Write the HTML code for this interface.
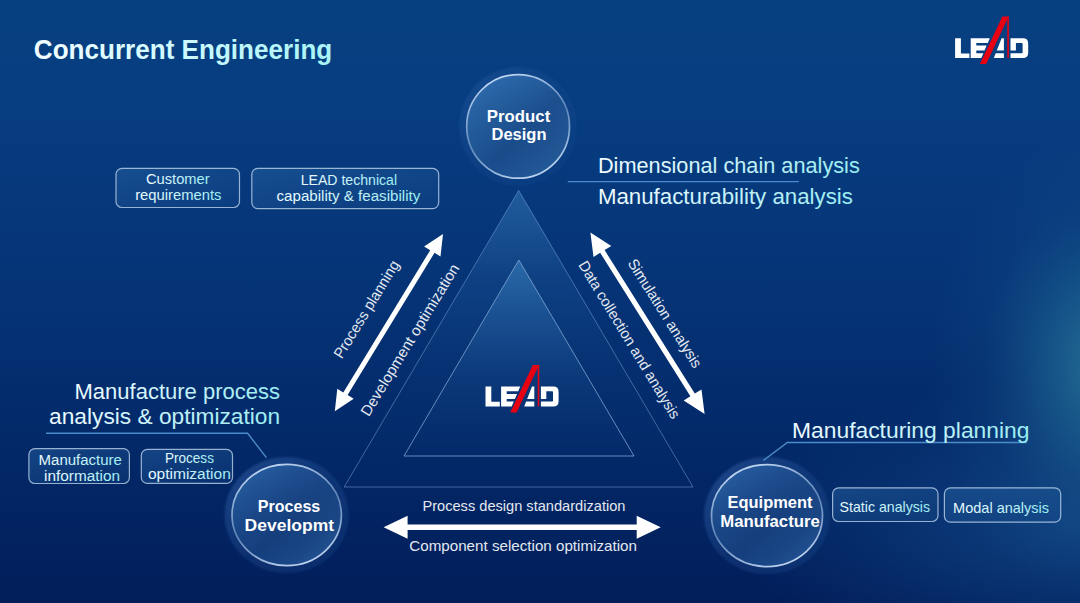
<!DOCTYPE html>
<html><head><meta charset="utf-8"><style>
html,body{margin:0;padding:0;background:#053173;}
body{width:1080px;height:603px;overflow:hidden;}
svg{display:block;}
</style></head><body>
<svg width="1080" height="603" viewBox="0 0 1080 603">
<defs>
<linearGradient id="bg" x1="0" y1="0" x2="0" y2="1">
  <stop offset="0" stop-color="#074080"/>
  <stop offset="0.17" stop-color="#073d81"/>
  <stop offset="0.5" stop-color="#053375"/>
  <stop offset="0.75" stop-color="#032868"/>
  <stop offset="1" stop-color="#021e5a"/>
</linearGradient>
<radialGradient id="glow" cx="0.5" cy="0.5" r="0.5">
  <stop offset="0" stop-color="#2c7e9c" stop-opacity="0.85"/>
  <stop offset="0.35" stop-color="#23709a" stop-opacity="0.5"/>
  <stop offset="0.7" stop-color="#1a5a90" stop-opacity="0.15"/>
  <stop offset="1" stop-color="#1a5a90" stop-opacity="0"/>
</radialGradient>
<radialGradient id="glow2" cx="0.5" cy="0.5" r="0.5">
  <stop offset="0" stop-color="#124888" stop-opacity="0.85"/>
  <stop offset="0.5" stop-color="#0f4282" stop-opacity="0.45"/>
  <stop offset="1" stop-color="#0c3c7a" stop-opacity="0"/>
</radialGradient>
<linearGradient id="tg" x1="0" y1="0" x2="1" y2="0">
  <stop offset="0" stop-color="#f2fbff"/>
  <stop offset="0.5" stop-color="#c8f2f8"/>
  <stop offset="1" stop-color="#98eef2"/>
</linearGradient>
<linearGradient id="tgt" x1="0" y1="0" x2="1" y2="0">
  <stop offset="0" stop-color="#f4fdff"/>
  <stop offset="0.35" stop-color="#d8fbff"/>
  <stop offset="1" stop-color="#a8f4f6"/>
</linearGradient>
<linearGradient id="tri" x1="0" y1="0" x2="0" y2="1">
  <stop offset="0" stop-color="#2a68a8" stop-opacity="0.75"/>
  <stop offset="0.3" stop-color="#2a68a8" stop-opacity="0.22"/>
  <stop offset="0.6" stop-color="#2a68a8" stop-opacity="0.05"/>
  <stop offset="1" stop-color="#2a68a8" stop-opacity="0.0"/>
</linearGradient>
<linearGradient id="tri2" x1="0" y1="0" x2="0" y2="1">
  <stop offset="0" stop-color="#3272b2" stop-opacity="0.8"/>
  <stop offset="0.3" stop-color="#2a68a8" stop-opacity="0.45"/>
  <stop offset="0.6" stop-color="#2a68a8" stop-opacity="0.15"/>
  <stop offset="1" stop-color="#2a68a8" stop-opacity="0.0"/>
</linearGradient>
<linearGradient id="circ" x1="0" y1="0" x2="1" y2="1">
  <stop offset="0" stop-color="#2a62a2"/>
  <stop offset="0.2" stop-color="#1f5294"/>
  <stop offset="0.35" stop-color="#1a4789"/>
  <stop offset="0.55" stop-color="#153f7f"/>
  <stop offset="0.75" stop-color="#1a4788"/>
  <stop offset="1" stop-color="#2a5c9c"/>
</linearGradient>
<linearGradient id="circA" x1="0" y1="0" x2="1" y2="1">
  <stop offset="0" stop-color="#3070b0"/>
  <stop offset="0.2" stop-color="#2762a4"/>
  <stop offset="0.35" stop-color="#215a9a"/>
  <stop offset="0.55" stop-color="#1a4d8d"/>
  <stop offset="0.75" stop-color="#1f5494"/>
  <stop offset="1" stop-color="#2c64a2"/>
</linearGradient>
<linearGradient id="circsh" x1="0" y1="0" x2="0" y2="1">
  <stop offset="0" stop-color="#4a8ad0" stop-opacity="0.12"/>
  <stop offset="1" stop-color="#000000" stop-opacity="0.0"/>
</linearGradient>
<linearGradient id="cstroke" x1="0.3" y1="0" x2="0.7" y2="1">
  <stop offset="0" stop-color="#d8eaff"/>
  <stop offset="0.5" stop-color="#88acd8" stop-opacity="0.7"/>
  <stop offset="1" stop-color="#d8eaff"/>
</linearGradient>
<linearGradient id="halo" x1="0" y1="0" x2="1" y2="1">
  <stop offset="0" stop-color="#3a6cb2" stop-opacity="0.5"/>
  <stop offset="0.5" stop-color="#2a5aa0" stop-opacity="0.28"/>
  <stop offset="1" stop-color="#2a5aa0" stop-opacity="0.22"/>
</linearGradient>
<filter id="blur1" x="-0.1" y="-0.1" width="1.2" height="1.2"><feGaussianBlur stdDeviation="1.2"/></filter>
<linearGradient id="box" x1="0" y1="0" x2="1" y2="1">
  <stop offset="0" stop-color="#2a68a8" stop-opacity="0.45"/>
  <stop offset="1" stop-color="#1a4f90" stop-opacity="0.25"/>
</linearGradient>

<filter id="soft" x="-0.2" y="-0.2" width="1.4" height="1.4"><feGaussianBlur stdDeviation="2"/></filter>
</defs>
<rect width="1080" height="603" fill="url(#bg)"/>
<ellipse cx="1090" cy="525" rx="360" ry="150" fill="url(#glow2)"/>
<ellipse cx="1105" cy="365" rx="175" ry="240" fill="url(#glow)"/>
<polygon points="518.7,190.5 693,487 344.2,487" fill="url(#tri)" stroke="#7fa8d8" stroke-opacity="0.5" stroke-width="1"/>
<polygon points="518.8,260 634,456 404,456" fill="url(#tri2)" stroke="#8fb4e0" stroke-opacity="0.7" stroke-width="1"/>
<ellipse cx="518.1" cy="126.4" rx="58.9" ry="59.3" fill="url(#halo)" opacity="0.6" filter="url(#blur1)"/><ellipse cx="518.1" cy="126.4" rx="51.4" ry="51.8" fill="url(#circA)"/><ellipse cx="518.1" cy="126.4" rx="51.4" ry="51.8" fill="url(#circsh)"/><ellipse cx="518.1" cy="126.4" rx="51.4" ry="51.8" fill="none" stroke="url(#cstroke)" stroke-opacity="0.9" stroke-width="1.7"/>
<ellipse cx="286.7" cy="515" rx="62.2" ry="58.1" fill="url(#halo)" opacity="1.0" filter="url(#blur1)"/><ellipse cx="286.7" cy="515" rx="54.7" ry="50.6" fill="url(#circ)"/><ellipse cx="286.7" cy="515" rx="54.7" ry="50.6" fill="url(#circsh)"/><ellipse cx="286.7" cy="515" rx="54.7" ry="50.6" fill="none" stroke="url(#cstroke)" stroke-opacity="0.9" stroke-width="1.7"/>
<ellipse cx="767" cy="515.6" rx="63.0" ry="58.5" fill="url(#halo)" opacity="1.0" filter="url(#blur1)"/><ellipse cx="767" cy="515.6" rx="55.5" ry="51" fill="url(#circ)"/><ellipse cx="767" cy="515.6" rx="55.5" ry="51" fill="url(#circsh)"/><ellipse cx="767" cy="515.6" rx="55.5" ry="51" fill="none" stroke="url(#cstroke)" stroke-opacity="0.9" stroke-width="1.7"/>
<g transform="translate(485,365)">
  <path d="M0.5 21.6 H6.3 V36.8 H14.8 V41.5 H0.5 Z" fill="#fff"/>
  <path d="M16.1 21.6 H35.2 L33.2 26.3 H21.7 V29 H32.04 L29.9 34 H21.7 V36.6 H28.8 L26.7 41.5 H16.1 Z" fill="#fff"/>
  <path d="M47 21.6 H49.3 V34 H42.14 Z M41.12 36.6 H49.3 V41.5 H39.2 Z" fill="#fff"/>
  <path d="M55.9 21.6 H68.3 Q73.6 21.6 73.6 26.9 V36.2 Q73.6 41.5 68.3 41.5 H55.9 V36.6 H67.2 Q68 36.6 68 35.8 V27.1 Q68 26.3 67.2 26.3 H61.3 V34 H55.9 Z" fill="#fff"/>
  <path d="M47.8 0 H54 L31.6 47.5 H25.3 Z" fill="#e60012"/>
  <rect x="52.7" y="0" width="1.6" height="41.3" fill="#e60012"/>
</g>
<g transform="translate(954.6,16.6)">
  <path d="M0.5 21.6 H6.3 V36.8 H14.8 V41.5 H0.5 Z" fill="#fff"/>
  <path d="M16.1 21.6 H35.2 L33.2 26.3 H21.7 V29 H32.04 L29.9 34 H21.7 V36.6 H28.8 L26.7 41.5 H16.1 Z" fill="#fff"/>
  <path d="M47 21.6 H49.3 V34 H42.14 Z M41.12 36.6 H49.3 V41.5 H39.2 Z" fill="#fff"/>
  <path d="M55.9 21.6 H68.3 Q73.6 21.6 73.6 26.9 V36.2 Q73.6 41.5 68.3 41.5 H55.9 V36.6 H67.2 Q68 36.6 68 35.8 V27.1 Q68 26.3 67.2 26.3 H61.3 V34 H55.9 Z" fill="#fff"/>
  <path d="M47.8 0 H54 L31.6 47.5 H25.3 Z" fill="#e60012"/>
  <rect x="52.7" y="0" width="1.6" height="41.3" fill="#e60012"/>
</g>
<polygon points="383.6,527.2 407.6,538.7 407.6,530.0 636.7,530.0 636.7,538.7 660.7,527.2 636.7,515.7 636.7,524.4 407.6,524.4 407.6,515.7" fill="#fff"/>
<polygon points="334.8,411.2 353.7,398.7 347.6,395.0 434.5,252.8 440.5,256.5 443.0,234.0 424.1,246.5 430.2,250.2 343.3,392.4 337.3,388.7" fill="#fff"/>
<polygon points="590.4,232.4 593.5,257.0 600.2,252.8 690.4,396.3 683.7,400.5 704.6,414.0 701.5,389.4 694.8,393.6 604.6,250.1 611.3,245.9" fill="#fff"/>
<polyline points="567.8,181.6 798.9,181.6" fill="none" stroke="#4d8ccc" stroke-width="1.4"/>
<polyline points="46,433.3 247.6,433.3 266.4,457.6" fill="none" stroke="#4d8ccc" stroke-width="1.4"/>
<polyline points="1026.7,442.5 787.4,442.5 763.3,460.5" fill="none" stroke="#4d8ccc" stroke-width="1.4"/>
<rect x="116" y="168.4" width="123.5" height="39.099999999999994" rx="6" fill="url(#box)" stroke="#c8dcf0" stroke-opacity="0.75" stroke-width="1.2"/>
<rect x="251.8" y="168.4" width="186.89999999999998" height="40.19999999999999" rx="6" fill="url(#box)" stroke="#c8dcf0" stroke-opacity="0.75" stroke-width="1.2"/>
<rect x="28.9" y="448.6" width="100.5" height="34.89999999999998" rx="6" fill="url(#box)" stroke="#c8dcf0" stroke-opacity="0.75" stroke-width="1.2"/>
<rect x="141.3" y="449.4" width="91.19999999999999" height="34.0" rx="6" fill="url(#box)" stroke="#c8dcf0" stroke-opacity="0.75" stroke-width="1.2"/>
<rect x="832.6" y="487.8" width="105.39999999999998" height="33.69999999999999" rx="6" fill="url(#box)" stroke="#c8dcf0" stroke-opacity="0.75" stroke-width="1.2"/>
<rect x="944.4" y="487.8" width="116.30000000000007" height="34.400000000000034" rx="6" fill="url(#box)" stroke="#c8dcf0" stroke-opacity="0.75" stroke-width="1.2"/>
<g font-family='"Liberation Sans", sans-serif'>
<text x="33.8" y="58.6" font-size="27.5" font-weight="bold" fill="url(#tgt)" text-anchor="start" textLength="298.5" lengthAdjust="spacingAndGlyphs" >Concurrent Engineering</text>
<text x="518.5" y="122" font-size="17" font-weight="bold" fill="#ffffff" text-anchor="middle" textLength="63.5" lengthAdjust="spacingAndGlyphs" >Product</text>
<text x="519" y="139.6" font-size="17" font-weight="bold" fill="#ffffff" text-anchor="middle" textLength="55" lengthAdjust="spacingAndGlyphs" >Design</text>
<text x="289" y="511.8" font-size="17" font-weight="bold" fill="#ffffff" text-anchor="middle" textLength="62.5" lengthAdjust="spacingAndGlyphs" >Process</text>
<text x="289.3" y="530.5" font-size="17" font-weight="bold" fill="#ffffff" text-anchor="middle" textLength="89.5" lengthAdjust="spacingAndGlyphs" >Developmt</text>
<text x="770" y="508.2" font-size="16.5" font-weight="bold" fill="#ffffff" text-anchor="middle" textLength="85" lengthAdjust="spacingAndGlyphs" >Equipment</text>
<text x="770" y="527" font-size="16.5" font-weight="bold" fill="#ffffff" text-anchor="middle" textLength="99.5" lengthAdjust="spacingAndGlyphs" >Manufacture</text>
<text x="597.9" y="172.7" font-size="21.5" font-weight="normal" fill="url(#tg)" text-anchor="start" textLength="261.9" lengthAdjust="spacingAndGlyphs" >Dimensional chain analysis</text>
<text x="597.9" y="204.2" font-size="21.5" font-weight="normal" fill="url(#tg)" text-anchor="start" textLength="255" lengthAdjust="spacingAndGlyphs" >Manufacturability analysis</text>
<text x="280" y="399.1" font-size="22" font-weight="normal" fill="url(#tg)" text-anchor="end" textLength="205.5" lengthAdjust="spacingAndGlyphs" >Manufacture process</text>
<text x="280.1" y="423.7" font-size="22" font-weight="normal" fill="url(#tg)" text-anchor="end" textLength="231" lengthAdjust="spacingAndGlyphs" >analysis &amp; optimization</text>
<text x="792" y="437.5" font-size="22.5" font-weight="normal" fill="url(#tg)" text-anchor="start" textLength="237.5" lengthAdjust="spacingAndGlyphs" >Manufacturing planning</text>
<text x="177.8" y="184" font-size="14" font-weight="normal" fill="url(#tg)" text-anchor="middle" textLength="63.7" lengthAdjust="spacingAndGlyphs" >Customer</text>
<text x="178.3" y="200.1" font-size="14" font-weight="normal" fill="url(#tg)" text-anchor="middle" textLength="86.3" lengthAdjust="spacingAndGlyphs" >requirements</text>
<text x="348.9" y="184.7" font-size="14" font-weight="normal" fill="url(#tg)" text-anchor="middle" textLength="96.3" lengthAdjust="spacingAndGlyphs" >LEAD technical</text>
<text x="348.4" y="201.2" font-size="14" font-weight="normal" fill="url(#tg)" text-anchor="middle" textLength="143.7" lengthAdjust="spacingAndGlyphs" >capability &amp; feasibility</text>
<text x="80.25" y="464.8" font-size="14" font-weight="normal" fill="url(#tg)" text-anchor="middle" textLength="83.4" lengthAdjust="spacingAndGlyphs" >Manufacture</text>
<text x="82.1" y="480.6" font-size="14" font-weight="normal" fill="url(#tg)" text-anchor="middle" textLength="76" lengthAdjust="spacingAndGlyphs" >information</text>
<text x="189.45" y="463" font-size="14" font-weight="normal" fill="url(#tg)" text-anchor="middle" textLength="49" lengthAdjust="spacingAndGlyphs" >Process</text>
<text x="189.35" y="479" font-size="14" font-weight="normal" fill="url(#tg)" text-anchor="middle" textLength="82.9" lengthAdjust="spacingAndGlyphs" >optimization</text>
<text x="884.8" y="511.6" font-size="14.5" font-weight="normal" fill="url(#tg)" text-anchor="middle" textLength="90.5" lengthAdjust="spacingAndGlyphs" >Static analysis</text>
<text x="1001.1" y="513.3" font-size="14.5" font-weight="normal" fill="url(#tg)" text-anchor="middle" textLength="96" lengthAdjust="spacingAndGlyphs" >Modal analysis</text>
<text x="523.95" y="510.7" font-size="14.5" font-weight="normal" fill="#e2e8f0" text-anchor="middle" textLength="203" lengthAdjust="spacingAndGlyphs" >Process design standardization</text>
<text x="523.1" y="551" font-size="14.5" font-weight="normal" fill="#e2e8f0" text-anchor="middle" textLength="227.7" lengthAdjust="spacingAndGlyphs" >Component selection optimization</text>
<g transform="translate(366.6,309.4) rotate(-58.6)"><text x="0" y="5" font-size="15" font-weight="normal" fill="#e2e8f0" text-anchor="middle" textLength="111.5" lengthAdjust="spacingAndGlyphs" >Process planning</text></g>
<g transform="translate(410,340) rotate(-58.6)"><text x="0" y="5" font-size="15" font-weight="normal" fill="#e2e8f0" text-anchor="middle" textLength="175" lengthAdjust="spacingAndGlyphs" >Development optimization</text></g>
<g transform="translate(664.8,313.5) rotate(57.8)"><text x="0" y="5" font-size="15" font-weight="normal" fill="#e2e8f0" text-anchor="middle" textLength="125.5" lengthAdjust="spacingAndGlyphs" >Simulation analysis</text></g>
<g transform="translate(629.2,339.9) rotate(58.8)"><text x="0" y="5" font-size="15" font-weight="normal" fill="#e2e8f0" text-anchor="middle" textLength="181.5" lengthAdjust="spacingAndGlyphs" >Data collection and analysis</text></g>
</g>
</svg>
</body></html>
